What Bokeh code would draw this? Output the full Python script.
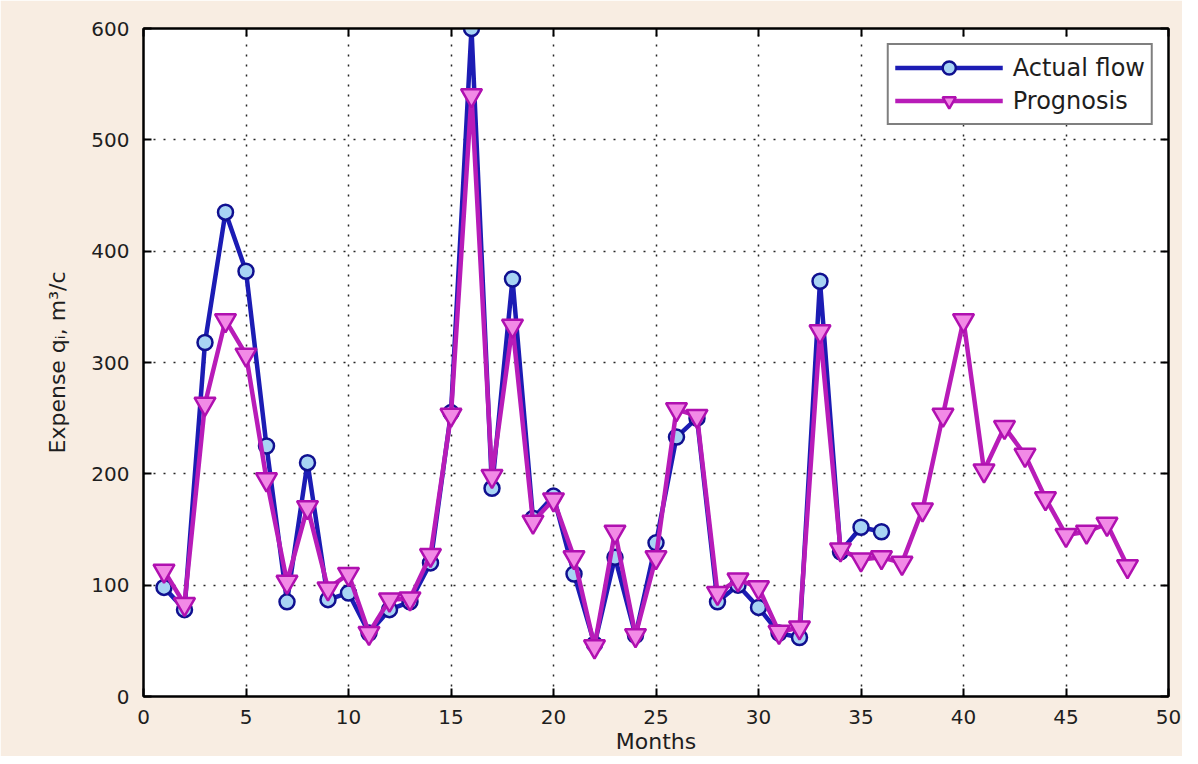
from bokeh.plotting import figure
from bokeh.models import Range1d, LinearAxis, FixedTicker, Legend, LegendItem
from bokeh.embed import file_html
from bokeh.resources import INLINE

months_actual = list(range(1, 37))
actual_flow = [98, 78, 318, 435, 382, 225, 85, 210, 87, 93, 57, 78,
               85, 120, 255, 600, 187, 375, 160, 180, 110, 47, 125, 55,
               138, 233, 250, 85, 100, 80, 57, 53, 373, 130, 152, 148]

months_prog = list(range(1, 49))
prognosis = [113, 83, 263, 338, 307, 195, 103, 170, 97, 110, 57, 87,
             88, 127, 253, 540, 198, 333, 157, 177, 125, 45, 148, 55,
             125, 258, 252, 93, 105, 98, 58, 62, 328, 132, 123, 125,
             120, 168, 253, 338, 203, 242, 217, 178, 145, 148, 155, 117]

x_ticks = list(range(0, 51, 5))
y_ticks = list(range(0, 601, 100))

FONT = "DejaVu Sans"
BG = "#f8ede2"
TXT = "#1e1e1e"

p = figure(width=1182, height=756, output_backend="svg", toolbar_location=None,
           x_range=Range1d(0, 50), y_range=Range1d(0, 600),
           min_border_left=143, min_border_right=14, min_border_top=28, min_border_bottom=57)
p.border_fill_color = BG
p.background_fill_color = "white"
p.outline_line_color = "black"
p.outline_line_width = 2

for ax in (p.xaxis[0], p.yaxis[0]):
    ax.ticker = FixedTicker(ticks=x_ticks if ax is p.xaxis[0] else y_ticks)
    ax.major_tick_in = 8
    ax.major_tick_out = 0
    ax.minor_tick_line_color = None
    ax.axis_line_color = "black"
    ax.axis_line_width = 2
    ax.major_tick_line_color = "black"
    ax.major_tick_line_width = 2
    ax.major_label_text_font = FONT
    ax.major_label_text_font_size = "20px"
    ax.major_label_text_color = TXT
    ax.axis_label_text_font = FONT
    ax.axis_label_text_font_size = "22px"
    ax.axis_label_text_font_style = "normal"
    ax.axis_label_text_color = TXT

p.xaxis.axis_label = "Months"
p.xaxis.major_label_standoff = 13
p.xaxis.axis_label_standoff = 2
p.yaxis.axis_label = "Expense qᵢ, m³/c"
p.yaxis.major_label_standoff = 14
p.yaxis.axis_label_standoff = 18

for loc, ticks in (("right", y_ticks), ("above", x_ticks)):
    a = LinearAxis(ticker=FixedTicker(ticks=ticks), major_label_text_color=None,
                   major_tick_in=8, major_tick_out=0, minor_tick_line_color=None,
                   axis_line_color="black", axis_line_width=2,
                   major_tick_line_color="black", major_tick_line_width=2,
                   major_label_standoff=0)
    p.add_layout(a, loc)

p.xgrid.ticker = FixedTicker(ticks=x_ticks)
p.ygrid.ticker = FixedTicker(ticks=y_ticks)
p.grid.grid_line_color = "black"
p.grid.grid_line_width = 1.5
p.grid.grid_line_dash = "2 8"
p.grid.grid_line_alpha = 0.85

l1 = p.line(months_actual, actual_flow, line_color="#1c1cb4", line_width=4.5)
s1 = p.scatter(months_actual, actual_flow, marker="circle", size=15,
               fill_color="#a8d4f4", line_color="#101090", line_width=2.5)
l2 = p.line(months_prog, prognosis, line_color="#b81cb8", line_width=4.5)
s2 = p.scatter(months_prog, prognosis, marker="inverted_triangle", size=21,
               fill_color="#f28ae6", line_color="#b010b0", line_width=2.5)

legend = Legend(items=[LegendItem(label="Actual flow", renderers=[l1, s1]),
                       LegendItem(label="Prognosis", renderers=[l2, s2])],
                location="top_right")
legend.label_text_font = FONT
legend.label_text_font_size = "24px"
legend.label_text_color = TXT
legend.label_height = 28
legend.glyph_width = 108
legend.glyph_height = 33
legend.label_standoff = 10
legend.spacing = 0
legend.padding = 6
legend.margin = 15
legend.border_line_color = "black"
legend.border_line_width = 2
legend.background_fill_color = "white"
legend.background_fill_alpha = 1
p.add_layout(legend)

open("out.html", "w").write(file_html(p, INLINE))
